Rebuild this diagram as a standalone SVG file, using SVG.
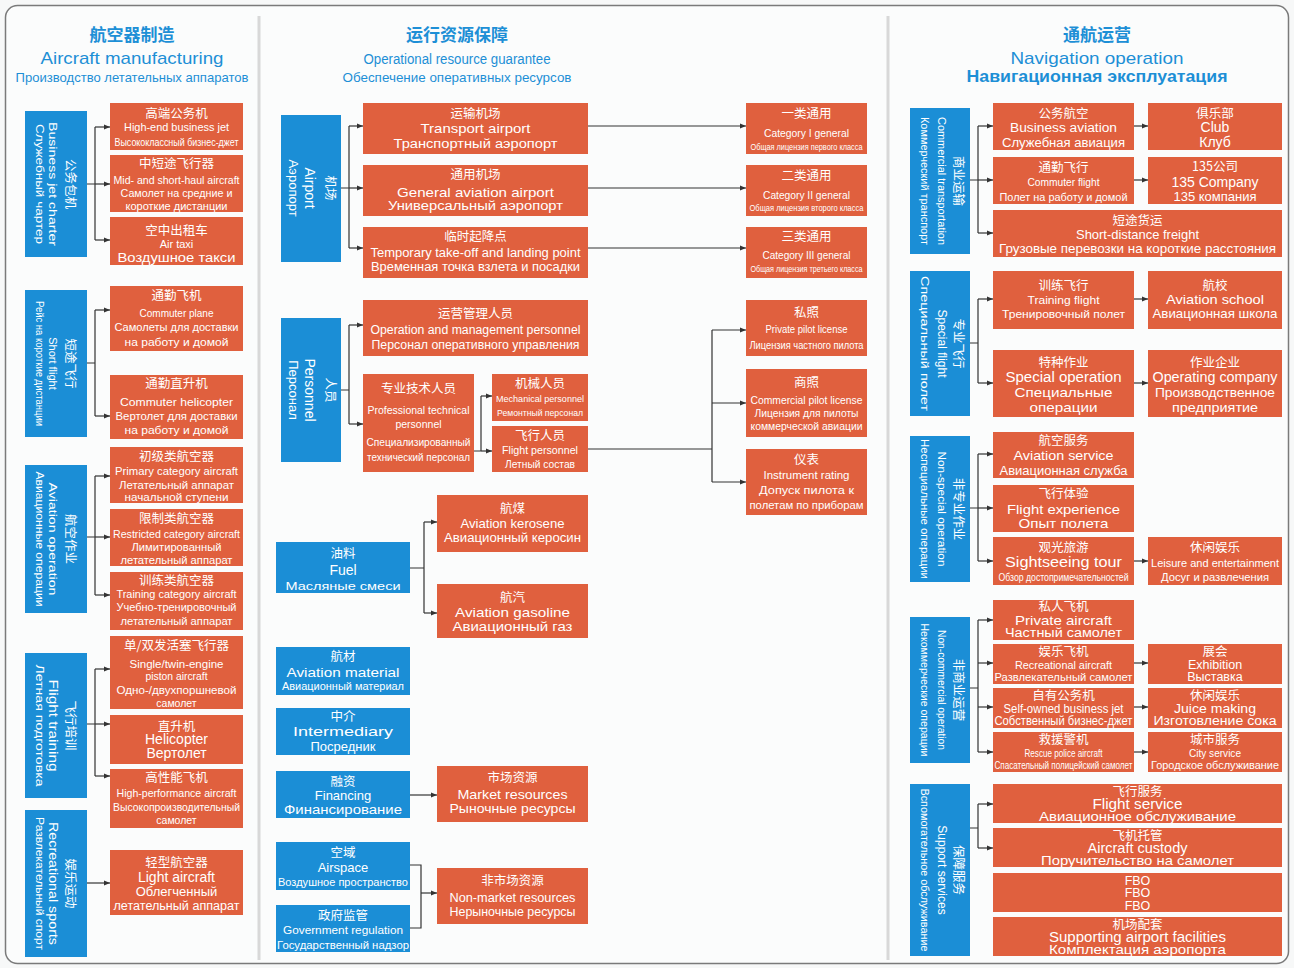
<svg xmlns="http://www.w3.org/2000/svg" width="1294" height="968" viewBox="0 0 1294 968">
<defs>
<marker id="a" markerWidth="6" markerHeight="6" refX="6" refY="3" orient="auto" markerUnits="userSpaceOnUse"><path d="M0,0.6 L6,3 L0,5.4z" fill="#333"/></marker>
<style>
text{font-family:"Liberation Sans","Noto Sans CJK SC",sans-serif;fill:#fff;text-anchor:middle}
.z{font-family:"Noto Sans CJK SC","Liberation Sans",sans-serif;font-size:12.5px}
.e{font-size:11px}
.r{font-size:10.5px}
.o{fill:#e0603e}
.b{fill:#1b8ed6}
.h{fill:#1d8fd6}
.h1{font-family:"Noto Sans CJK SC",sans-serif;font-size:17px;font-weight:bold}
.c path{fill:none;stroke:#333;stroke-width:1.2}
.c path.m{marker-end:url(#a)}
</style>
</defs>
<rect x="0" y="0" width="1294" height="968" fill="#f7f8f8"/>
<rect x="5.5" y="5.5" width="1283" height="958" rx="12" fill="#fbfcfc" stroke="#7a7a7a" stroke-width="1.5"/>
<line x1="259" y1="16" x2="259" y2="960" stroke="#d8d8d8" stroke-width="3"/>
<line x1="888" y1="16" x2="888" y2="960" stroke="#d8d8d8" stroke-width="3"/>

<g id="titles">
<text x="132" y="41" class="h h1">航空器制造</text>
<text x="132" y="64" class="h" font-size="17" textLength="183" lengthAdjust="spacingAndGlyphs">Aircraft manufacturing</text>
<text x="132" y="82" class="h" font-size="13" textLength="233" lengthAdjust="spacingAndGlyphs">Производство летательных аппаратов</text>
<text x="457" y="41" class="h h1">运行资源保障</text>
<text x="457" y="63.5" class="h" font-size="14" textLength="187" lengthAdjust="spacingAndGlyphs">Operational resource guarantee</text>
<text x="457" y="81.5" class="h" font-size="13" textLength="229" lengthAdjust="spacingAndGlyphs">Обеспечение оперативных ресурсов</text>
<text x="1097" y="41" class="h h1">通航运营</text>
<text x="1097" y="64" class="h" font-size="17" textLength="173" lengthAdjust="spacingAndGlyphs">Navigation operation</text>
<text x="1097" y="82" class="h" font-size="16" font-weight="bold" textLength="261" lengthAdjust="spacingAndGlyphs">Навигационная эксплуатация</text>
</g>

<g id="connectors" class="c">
<path d="M87,184H95M95,127V240"/>
<path class="m" d="M95,127H110"/><path class="m" d="M95,184H110"/><path class="m" d="M95,240H110"/>
<path d="M87,363H95M95,310V416"/>
<path class="m" d="M95,310H110"/><path class="m" d="M95,416H110"/>
<path d="M87,537H95M95,476V595"/>
<path class="m" d="M95,476H110"/><path class="m" d="M95,537H110"/><path class="m" d="M95,595H110"/>
<path d="M87,724H95M95,669V776"/>
<path class="m" d="M95,669H110"/><path class="m" d="M95,724H110"/><path class="m" d="M95,776H110"/>
<path class="m" d="M87,883H110"/>

<path d="M341,188H349M349,126V248"/>
<path class="m" d="M349,126H363"/><path class="m" d="M349,188H363"/><path class="m" d="M349,248H363"/>
<path class="m" d="M588,126H746"/><path class="m" d="M588,188H746"/><path class="m" d="M588,248H746"/>
<path d="M341,390H349M349,325V424"/>
<path class="m" d="M349,325H363"/><path class="m" d="M349,424H363"/>
<path d="M474,451H481M481,396V451"/>
<path class="m" d="M481,396H492"/><path class="m" d="M481,451H492"/>
<path d="M588,449H712M712,330V482"/>
<path class="m" d="M712,330H746"/><path class="m" d="M712,403H746"/><path class="m" d="M712,482H746"/>
<path d="M410,568H424M424,522V613"/>
<path class="m" d="M424,522H437"/><path class="m" d="M424,613H437"/>
<path class="m" d="M410,795H437"/>
<path d="M410,865H421V928H410"/>
<path class="m" d="M421,893H437"/>

<path d="M970,180H978M978,126V233"/>
<path class="m" d="M978,126H993"/><path class="m" d="M978,180H993"/><path class="m" d="M978,233H993"/>
<path d="M970,343H978M978,299V383"/>
<path class="m" d="M978,299H993"/><path class="m" d="M978,383H993"/>
<path d="M970,508H978M978,454V561"/>
<path class="m" d="M978,454H993"/><path class="m" d="M978,508H993"/><path class="m" d="M978,561H993"/>
<path d="M970,688H978M978,620V752"/>
<path class="m" d="M978,620H993"/><path class="m" d="M978,663H993"/><path class="m" d="M978,707H993"/><path class="m" d="M978,752H993"/>
<path d="M970,828H978M978,804V848"/>
<path class="m" d="M978,804H993"/><path class="m" d="M978,848H993"/>
<path class="m" d="M1134,126H1148"/><path class="m" d="M1134,180H1148"/>
<path class="m" d="M1134,299H1148"/><path class="m" d="M1134,383H1148"/>
<path class="m" d="M1134,561H1148"/><path class="m" d="M1134,663H1148"/>
<path class="m" d="M1134,707H1148"/><path class="m" d="M1134,752H1148"/>
</g>

<!-- Column 1 blue -->
<g id="charter"><rect class="b" x="25" y="111" width="62" height="146"/><g transform="translate(56,184) rotate(90)"><text class="z" y="-9.5">公务包机</text><text class="e" y="7" textLength="124" lengthAdjust="spacingAndGlyphs">Business jet charter</text><text class="r" y="20" textLength="120" lengthAdjust="spacingAndGlyphs">Служебный чартер</text></g></g>
<g id="shortflight"><rect class="b" x="25" y="290" width="62" height="147"/><g transform="translate(56,363.5) rotate(90)"><text class="z" y="-9.5">短途飞行</text><text class="e" y="7">Short flight</text><text class="r" y="20" textLength="125" lengthAdjust="spacingAndGlyphs">Рейс на короткие дистанции</text></g></g>
<g id="aviop"><rect class="b" x="25" y="465" width="62" height="148"/><g transform="translate(56,539) rotate(90)"><text class="z" y="-9.5">航空作业</text><text class="e" y="7" textLength="113" lengthAdjust="spacingAndGlyphs">Aviation operation</text><text class="r" y="20" textLength="135" lengthAdjust="spacingAndGlyphs">Авиационные операции</text></g></g>
<g id="flighttraining"><rect class="b" x="25" y="653" width="62" height="145"/><g transform="translate(56,725.5) rotate(90)"><text class="z" y="-9.5">飞行培训</text><text y="7" font-size="13" textLength="92" lengthAdjust="spacingAndGlyphs">Flight training</text><text class="r" y="20" textLength="122" lengthAdjust="spacingAndGlyphs">Летная подготовка</text></g></g>
<g id="recsports"><rect class="b" x="25" y="810" width="62" height="147"/><g transform="translate(56,883.5) rotate(90)"><text class="z" y="-9.5">娱乐运动</text><text y="7" font-size="13" textLength="123" lengthAdjust="spacingAndGlyphs">Recreational sports</text><text class="r" y="20" textLength="133" lengthAdjust="spacingAndGlyphs">Развлекательный спорт</text></g></g>

<!-- Column 1 orange -->
<g id="highend"><rect class="o" x="110" y="103" width="133" height="47"/><text class="z" x="176.5" y="118">高端公务机</text><text class="e" x="176.5" y="131" textLength="105" lengthAdjust="spacingAndGlyphs">High-end business jet</text><text class="r" x="176.5" y="145.5" textLength="124" lengthAdjust="spacingAndGlyphs">Высококлассный бизнес-джет</text></g>
<g id="midshort"><rect class="o" x="110" y="155" width="133" height="57"/><text class="z" x="176.5" y="168">中短途飞行器</text><text class="e" x="176.5" y="183.5" textLength="126" lengthAdjust="spacingAndGlyphs">Mid- and short-haul aircraft</text><text class="r" x="176.5" y="197" textLength="112" lengthAdjust="spacingAndGlyphs">Самолет на средние и</text><text class="r" x="176.5" y="210" textLength="102" lengthAdjust="spacingAndGlyphs">короткие дистанции</text></g>
<g id="airtaxi"><rect class="o" x="110" y="217" width="133" height="48"/><text class="z" x="176.5" y="234.5">空中出租车</text><text class="e" x="176.5" y="247.5">Air taxi</text><text x="176.5" y="262" font-size="12" textLength="118" lengthAdjust="spacingAndGlyphs">Воздушное такси</text></g>
<g id="commuterplane"><rect class="o" x="110" y="286" width="133" height="65"/><text class="z" x="176.5" y="299.5">通勤飞机</text><text class="r" x="176.5" y="317" textLength="74" lengthAdjust="spacingAndGlyphs">Commuter plane</text><text class="r" x="176.5" y="331" textLength="124" lengthAdjust="spacingAndGlyphs">Самолеты для доставки</text><text class="r" x="176.5" y="346" textLength="104" lengthAdjust="spacingAndGlyphs">на работу и домой</text></g>
<g id="commuterheli"><rect class="o" x="110" y="375" width="133" height="64"/><text class="z" x="176.5" y="388">通勤直升机</text><text class="e" x="176.5" y="406" textLength="113" lengthAdjust="spacingAndGlyphs">Commuter helicopter</text><text class="r" x="176.5" y="420" textLength="122" lengthAdjust="spacingAndGlyphs">Вертолет для доставки</text><text class="r" x="176.5" y="433.5" textLength="104" lengthAdjust="spacingAndGlyphs">на работу и домой</text></g>
<g id="primary"><rect class="o" x="110" y="447" width="133" height="56"/><text class="z" x="176.5" y="460.5">初级类航空器</text><text class="e" x="176.5" y="475" textLength="123" lengthAdjust="spacingAndGlyphs">Primary category aircraft</text><text class="r" x="176.5" y="488.5" textLength="115" lengthAdjust="spacingAndGlyphs">Летательный аппарат</text><text class="r" x="176.5" y="500.5" textLength="104" lengthAdjust="spacingAndGlyphs">начальной ступени</text></g>
<g id="restricted"><rect class="o" x="110" y="509" width="133" height="57"/><text class="z" x="176.5" y="523">限制类航空器</text><text class="e" x="176.5" y="537.5" textLength="127" lengthAdjust="spacingAndGlyphs">Restricted category aircraft</text><text class="r" x="176.5" y="551" textLength="90" lengthAdjust="spacingAndGlyphs">Лимитированный</text><text class="r" x="176.5" y="563.5" textLength="112" lengthAdjust="spacingAndGlyphs">летательный аппарат</text></g>
<g id="trainingcat"><rect class="o" x="110" y="572" width="133" height="58"/><text class="z" x="176.5" y="585">训练类航空器</text><text class="e" x="176.5" y="597.5" textLength="120" lengthAdjust="spacingAndGlyphs">Training category aircraft</text><text class="r" x="176.5" y="611" textLength="120" lengthAdjust="spacingAndGlyphs">Учебно-тренировочный</text><text class="r" x="176.5" y="624.5" textLength="112" lengthAdjust="spacingAndGlyphs">летательный аппарат</text></g>
<g id="piston"><rect class="o" x="110" y="636" width="133" height="73"/><text class="z" x="176.5" y="649.5">单/双发活塞飞行器</text><text class="e" x="176.5" y="668" textLength="94" lengthAdjust="spacingAndGlyphs">Single/twin-engine</text><text class="e" x="176.5" y="679.5" textLength="62" lengthAdjust="spacingAndGlyphs">piston aircraft</text><text class="r" x="176.5" y="694" textLength="120" lengthAdjust="spacingAndGlyphs">Одно-/двухпоршневой</text><text class="r" x="176.5" y="707">самолет</text></g>
<g id="helicopter"><rect class="o" x="110" y="715" width="133" height="49"/><text class="z" x="176.5" y="730.5" font-size="14">直升机</text><text x="176.5" y="744" font-size="14">Helicopter</text><text x="176.5" y="758" font-size="14">Вертолет</text></g>
<g id="highperf"><rect class="o" x="110" y="769" width="133" height="59"/><text class="z" x="176.5" y="781.5">高性能飞机</text><text class="e" x="176.5" y="797" textLength="120" lengthAdjust="spacingAndGlyphs">High-performance aircraft</text><text class="r" x="176.5" y="811" textLength="127" lengthAdjust="spacingAndGlyphs">Высокопроизводительный</text><text class="r" x="176.5" y="824">самолет</text></g>
<g id="light"><rect class="o" x="110" y="850" width="133" height="65"/><text class="z" x="176.5" y="866.5" font-size="14">轻型航空器</text><text x="176.5" y="882" font-size="14">Light aircraft</text><text x="176.5" y="896" font-size="13">Облегченный</text><text x="176.5" y="910" font-size="12.5" textLength="126" lengthAdjust="spacingAndGlyphs">летательный аппарат</text></g>

<!-- Column 2 blue -->
<g id="airport"><rect class="b" x="281" y="115" width="60" height="147"/><g transform="translate(311,188) rotate(90)"><text class="z" y="-15" font-size="14">机场</text><text y="6" font-size="14">Airport</text><text y="22" font-size="13">Аэропорт</text></g></g>
<g id="personnel"><rect class="b" x="281" y="318" width="60" height="144"/><g transform="translate(311,390) rotate(90)"><text class="z" y="-15" font-size="14">人员</text><text y="6" font-size="14">Personnel</text><text y="22" font-size="13">Персонал</text></g></g>
<g id="fuel"><rect class="b" x="276" y="542" width="134" height="51"/><text class="z" x="343" y="557.5">油料</text><text x="343" y="575" font-size="14">Fuel</text><text x="343" y="590" font-size="11.5" textLength="115" lengthAdjust="spacingAndGlyphs">Масляные смеси</text></g>
<g id="material"><rect class="b" x="276" y="647" width="134" height="48"/><text class="z" x="343" y="660.5">航材</text><text x="343" y="676.5" font-size="12.5" textLength="113" lengthAdjust="spacingAndGlyphs">Aviation material</text><text class="r" x="343" y="690" textLength="122" lengthAdjust="spacingAndGlyphs">Авиационный материал</text></g>
<g id="intermediary"><rect class="b" x="276" y="708" width="134" height="47"/><text class="z" x="343" y="720.5">中介</text><text x="343" y="735.5" font-size="13" textLength="100" lengthAdjust="spacingAndGlyphs">Intermediary</text><text x="343" y="750.5" font-size="13">Посредник</text></g>
<g id="financing"><rect class="b" x="276" y="771" width="134" height="47"/><text class="z" x="343" y="785.5">融资</text><text x="343" y="799.5" font-size="13">Financing</text><text x="343" y="814" font-size="12.5" textLength="118" lengthAdjust="spacingAndGlyphs">Финансирование</text></g>
<g id="airspace"><rect class="b" x="276" y="842" width="134" height="48"/><text class="z" x="343" y="856.5">空域</text><text x="343" y="871.5" font-size="13">Airspace</text><text x="343" y="886" font-size="11" textLength="130" lengthAdjust="spacingAndGlyphs">Воздушное пространство</text></g>
<g id="government"><rect class="b" x="276" y="905" width="134" height="47"/><text class="z" x="343" y="919.5">政府监管</text><text class="r" x="343" y="934" textLength="120" lengthAdjust="spacingAndGlyphs">Government regulation</text><text class="e" x="343" y="948.5" textLength="132" lengthAdjust="spacingAndGlyphs">Государственный надзор</text></g>

<!-- Column 2 orange -->
<g id="transport"><rect class="o" x="363" y="103" width="225" height="51"/><text class="z" x="475.5" y="118" font-size="13">运输机场</text><text x="475.5" y="132.5" font-size="13" textLength="110" lengthAdjust="spacingAndGlyphs">Transport airport</text><text x="475.5" y="147.5" font-size="12.5" textLength="164" lengthAdjust="spacingAndGlyphs">Транспортный аэропорт</text></g>
<g id="general"><rect class="o" x="363" y="165" width="225" height="51"/><text class="z" x="475.5" y="178.5" font-size="13">通用机场</text><text x="475.5" y="196.5" font-size="13" textLength="157" lengthAdjust="spacingAndGlyphs">General aviation airport</text><text x="475.5" y="209.5" font-size="12.5" textLength="175" lengthAdjust="spacingAndGlyphs">Универсальный аэропорт</text></g>
<g id="temporary"><rect class="o" x="363" y="227" width="225" height="51"/><text class="z" x="475.5" y="240.5" font-size="13">临时起降点</text><text x="475.5" y="257" font-size="12.5" textLength="210" lengthAdjust="spacingAndGlyphs">Temporary take-off and landing point</text><text x="475.5" y="271" font-size="12" textLength="209" lengthAdjust="spacingAndGlyphs">Временная точка взлета и посадки</text></g>
<g id="opmgmt"><rect class="o" x="363" y="300" width="225" height="56"/><text class="z" x="475.5" y="317.5" font-size="13">运营管理人员</text><text x="475.5" y="334" font-size="12" textLength="210" lengthAdjust="spacingAndGlyphs">Operation and management personnel</text><text x="475.5" y="349" font-size="12" textLength="208" lengthAdjust="spacingAndGlyphs">Персонал оперативного управления</text></g>
<g id="protech"><rect class="o" x="363" y="374" width="111" height="98"/><text class="z" x="418.5" y="392.5" font-size="13">专业技术人员</text><text class="r" x="418.5" y="414" textLength="102" lengthAdjust="spacingAndGlyphs">Professional technical</text><text class="r" x="418.5" y="428">personnel</text><text class="r" x="418.5" y="446" textLength="104" lengthAdjust="spacingAndGlyphs">Специализированный</text><text class="r" x="418.5" y="461" textLength="103" lengthAdjust="spacingAndGlyphs">технический персонал</text></g>
<g id="mechanical"><rect class="o" x="492" y="374" width="96" height="47"/><text class="z" x="540" y="387.5" font-size="13">机械人员</text><text x="540" y="401.5" font-size="9.5" textLength="88" lengthAdjust="spacingAndGlyphs">Mechanical personnel</text><text x="540" y="415.5" font-size="9.5" textLength="86" lengthAdjust="spacingAndGlyphs">Ремонтный персонал</text></g>
<g id="flightpers"><rect class="o" x="492" y="426" width="96" height="46"/><text class="z" x="540" y="439.5" font-size="13">飞行人员</text><text x="540" y="453.5" font-size="10" textLength="76" lengthAdjust="spacingAndGlyphs">Flight personnel</text><text x="540" y="468" font-size="10" textLength="70" lengthAdjust="spacingAndGlyphs">Летный состав</text></g>
<g id="kerosene"><rect class="o" x="437" y="495" width="151" height="57"/><text class="z" x="512.5" y="512.5" font-size="13">航煤</text><text x="512.5" y="527.5" font-size="13" textLength="104" lengthAdjust="spacingAndGlyphs">Aviation kerosene</text><text x="512.5" y="542" font-size="12.5" textLength="137" lengthAdjust="spacingAndGlyphs">Авиационный керосин</text></g>
<g id="gasoline"><rect class="o" x="437" y="584" width="151" height="54"/><text class="z" x="512.5" y="601.5" font-size="13">航汽</text><text x="512.5" y="617" font-size="13" textLength="115" lengthAdjust="spacingAndGlyphs">Aviation gasoline</text><text x="512.5" y="631" font-size="12.5" textLength="120" lengthAdjust="spacingAndGlyphs">Авиационный газ</text></g>
<g id="market"><rect class="o" x="437" y="766" width="151" height="56"/><text class="z" x="512.5" y="781.5" font-size="13">市场资源</text><text x="512.5" y="799" font-size="13" textLength="110" lengthAdjust="spacingAndGlyphs">Market resources</text><text x="512.5" y="812.5" font-size="12.5" textLength="126" lengthAdjust="spacingAndGlyphs">Рыночные ресурсы</text></g>
<g id="nonmarket"><rect class="o" x="437" y="868" width="151" height="56"/><text class="z" x="512.5" y="884.5" font-size="13">非市场资源</text><text x="512.5" y="902" font-size="12" textLength="126" lengthAdjust="spacingAndGlyphs">Non-market resources</text><text x="512.5" y="916" font-size="12.5" textLength="126" lengthAdjust="spacingAndGlyphs">Нерыночные ресурсы</text></g>

<!-- Licenses -->
<g id="cat1"><rect class="o" x="746" y="103" width="121" height="51"/><text class="z" x="806.5" y="118">一类通用</text><text class="r" x="806.5" y="136.5" textLength="85" lengthAdjust="spacingAndGlyphs">Category I general</text><text x="806.5" y="150" font-size="9.5" textLength="112" lengthAdjust="spacingAndGlyphs">Общая лицензия первого класса</text></g>
<g id="cat2"><rect class="o" x="746" y="165" width="121" height="51"/><text class="z" x="806.5" y="180">二类通用</text><text class="r" x="806.5" y="199" textLength="87" lengthAdjust="spacingAndGlyphs">Category II general</text><text x="806.5" y="211" font-size="9.5" textLength="114" lengthAdjust="spacingAndGlyphs">Общая лицензия второго класса</text></g>
<g id="cat3"><rect class="o" x="746" y="227" width="121" height="51"/><text class="z" x="806.5" y="241">三类通用</text><text class="r" x="806.5" y="258.5" textLength="88" lengthAdjust="spacingAndGlyphs">Category III general</text><text x="806.5" y="271.5" font-size="9.5" textLength="112" lengthAdjust="spacingAndGlyphs">Общая лицензия третьего класса</text></g>
<g id="ppl"><rect class="o" x="746" y="300" width="121" height="56"/><text class="z" x="806.5" y="317">私照</text><text x="806.5" y="332.5" font-size="10" textLength="82" lengthAdjust="spacingAndGlyphs">Private pilot license</text><text x="806.5" y="348.5" font-size="10" textLength="114" lengthAdjust="spacingAndGlyphs">Лицензия частного пилота</text></g>
<g id="cpl"><rect class="o" x="746" y="369" width="121" height="68"/><text class="z" x="806.5" y="387">商照</text><text class="r" x="806.5" y="403.5" textLength="112" lengthAdjust="spacingAndGlyphs">Commercial pilot license</text><text class="r" x="806.5" y="416.5" textLength="104" lengthAdjust="spacingAndGlyphs">Лицензия для пилоты</text><text class="r" x="806.5" y="429.5" textLength="112" lengthAdjust="spacingAndGlyphs">коммерческой авиации</text></g>
<g id="ir"><rect class="o" x="746" y="449" width="121" height="66"/><text class="z" x="806.5" y="464">仪表</text><text class="r" x="806.5" y="479" textLength="86" lengthAdjust="spacingAndGlyphs">Instrument rating</text><text class="r" x="806.5" y="494" textLength="95" lengthAdjust="spacingAndGlyphs">Допуск пилота к</text><text class="r" x="806.5" y="509" textLength="114" lengthAdjust="spacingAndGlyphs">полетам по приборам</text></g>

<!-- Column 3 blue -->
<g id="commercial"><rect class="b" x="910" y="108" width="60" height="146"/><g transform="translate(940,181) rotate(90)"><text class="z" y="-13.5">商业运输</text><text class="e" y="2.5" textLength="128" lengthAdjust="spacingAndGlyphs">Commercial transportation</text><text class="e" y="19" textLength="128" lengthAdjust="spacingAndGlyphs">Коммерческий транспорт</text></g></g>
<g id="special"><rect class="b" x="910" y="271" width="60" height="145"/><g transform="translate(940,343.5) rotate(90)"><text class="z" y="-13.5">专业飞行</text><text y="2.5" font-size="12">Special flight</text><text class="e" y="19" textLength="135" lengthAdjust="spacingAndGlyphs">Специальный полет</text></g></g>
<g id="nonspecial"><rect class="b" x="910" y="436" width="60" height="146"/><g transform="translate(940,509) rotate(90)"><text class="z" y="-13.5">非专业作业</text><text class="e" y="2.5" textLength="115" lengthAdjust="spacingAndGlyphs">Non-special operation</text><text class="e" y="19" textLength="140" lengthAdjust="spacingAndGlyphs">Неспециальные операции</text></g></g>
<g id="noncommercial"><rect class="b" x="910" y="617" width="60" height="146"/><g transform="translate(940,690) rotate(90)"><text class="z" y="-13.5">非商业运营</text><text class="e" y="2.5" textLength="120" lengthAdjust="spacingAndGlyphs">Non-commercial operation</text><text class="e" y="19" textLength="133" lengthAdjust="spacingAndGlyphs">Некоммерческие операции</text></g></g>
<g id="support"><rect class="b" x="910" y="784" width="60" height="172"/><g transform="translate(940,870) rotate(90)"><text class="z" y="-13.5">保障服务</text><text y="2.5" font-size="12">Support services</text><text class="e" y="19" textLength="163" lengthAdjust="spacingAndGlyphs">Вспомогательное обслуживание</text></g></g>

<!-- Column 3 orange -->
<g id="bizav"><rect class="o" x="993" y="103" width="141" height="47"/><text class="z" x="1063.5" y="117.5">公务航空</text><text x="1063.5" y="132" font-size="12.5" textLength="107" lengthAdjust="spacingAndGlyphs">Business aviation</text><text x="1063.5" y="147" font-size="12" textLength="123" lengthAdjust="spacingAndGlyphs">Служебная авиация</text></g>
<g id="club"><rect class="o" x="1148" y="103" width="134" height="47"/><text class="z" x="1215" y="117.5">俱乐部</text><text x="1215" y="132" font-size="14">Club</text><text x="1215" y="147" font-size="14">Клуб</text></g>
<g id="commuterflight"><rect class="o" x="993" y="157" width="141" height="47"/><text class="z" x="1063.5" y="171.5">通勤飞行</text><text x="1063.5" y="186" font-size="10" textLength="72" lengthAdjust="spacingAndGlyphs">Commuter flight</text><text class="e" x="1063.5" y="201" textLength="128" lengthAdjust="spacingAndGlyphs">Полет на работу и домой</text></g>
<g id="co135"><rect class="o" x="1148" y="157" width="134" height="47"/><text class="z" x="1215" y="171" font-size="13">135公司</text><text x="1215" y="186.5" font-size="14">135 Company</text><text x="1215" y="200.5" font-size="13">135 компания</text></g>
<g id="freight"><rect class="o" x="993" y="210" width="289" height="47"/><text class="z" x="1137.5" y="224.5">短途货运</text><text x="1137.5" y="239" font-size="13" textLength="123" lengthAdjust="spacingAndGlyphs">Short-distance freight</text><text x="1137.5" y="253" font-size="13" textLength="277" lengthAdjust="spacingAndGlyphs">Грузовые перевозки на короткие расстояния</text></g>
<g id="trainingflight"><rect class="o" x="993" y="271" width="141" height="58"/><text class="z" x="1063.5" y="289.5">训练飞行</text><text class="e" x="1063.5" y="304" textLength="72" lengthAdjust="spacingAndGlyphs">Training flight</text><text class="e" x="1063.5" y="317.5" textLength="123" lengthAdjust="spacingAndGlyphs">Тренировочный полет</text></g>
<g id="school"><rect class="o" x="1148" y="271" width="134" height="58"/><text class="z" x="1215" y="289.5">航校</text><text x="1215" y="304" font-size="13" textLength="98" lengthAdjust="spacingAndGlyphs">Aviation school</text><text x="1215" y="317.5" font-size="13" textLength="125" lengthAdjust="spacingAndGlyphs">Авиационная школа</text></g>
<g id="specialop"><rect class="o" x="993" y="350" width="141" height="67"/><text class="z" x="1063.5" y="366.5" font-size="14">特种作业</text><text x="1063.5" y="382" font-size="14" textLength="116" lengthAdjust="spacingAndGlyphs">Special operation</text><text x="1063.5" y="397" font-size="13" textLength="98" lengthAdjust="spacingAndGlyphs">Специальные</text><text x="1063.5" y="411.5" font-size="13" textLength="68" lengthAdjust="spacingAndGlyphs">операции</text></g>
<g id="opcompany"><rect class="o" x="1148" y="350" width="134" height="67"/><text class="z" x="1215" y="366.5" font-size="14">作业企业</text><text x="1215" y="382" font-size="14" textLength="125" lengthAdjust="spacingAndGlyphs">Operating company</text><text x="1215" y="397" font-size="13" textLength="120" lengthAdjust="spacingAndGlyphs">Производственное</text><text x="1215" y="411.5" font-size="13" textLength="86" lengthAdjust="spacingAndGlyphs">предприятие</text></g>
<g id="avservice"><rect class="o" x="993" y="432" width="141" height="46"/><text class="z" x="1063.5" y="444.5">航空服务</text><text x="1063.5" y="460" font-size="13" textLength="100" lengthAdjust="spacingAndGlyphs">Aviation service</text><text x="1063.5" y="474.5" font-size="12.5" textLength="128" lengthAdjust="spacingAndGlyphs">Авиационная служба</text></g>
<g id="experience"><rect class="o" x="993" y="485" width="141" height="47"/><text class="z" x="1063.5" y="497.5">飞行体验</text><text x="1063.5" y="513.5" font-size="13.5" textLength="113" lengthAdjust="spacingAndGlyphs">Flight experience</text><text x="1063.5" y="528" font-size="13" textLength="90" lengthAdjust="spacingAndGlyphs">Опыт полета</text></g>
<g id="sightseeing"><rect class="o" x="993" y="537" width="141" height="48"/><text class="z" x="1063.5" y="551.5">观光旅游</text><text x="1063.5" y="567" font-size="14" textLength="117" lengthAdjust="spacingAndGlyphs">Sightseeing tour</text><text class="e" x="1063.5" y="581" textLength="130" lengthAdjust="spacingAndGlyphs">Обзор достопримечательностей</text></g>
<g id="leisure"><rect class="o" x="1148" y="537" width="134" height="48"/><text class="z" x="1215" y="551.5">休闲娱乐</text><text class="e" x="1215" y="567" textLength="128" lengthAdjust="spacingAndGlyphs">Leisure and entertainment</text><text class="e" x="1215" y="581" textLength="108" lengthAdjust="spacingAndGlyphs">Досуг и развлечения</text></g>
<g id="private"><rect class="o" x="993" y="600" width="141" height="40"/><text class="z" x="1063.5" y="611" font-size="12">私人飞机</text><text x="1063.5" y="624.5" font-size="13" textLength="97" lengthAdjust="spacingAndGlyphs">Private aircraft</text><text x="1063.5" y="637" font-size="12.5" textLength="117" lengthAdjust="spacingAndGlyphs">Частный самолет</text></g>
<g id="recreational"><rect class="o" x="993" y="644" width="141" height="40"/><text class="z" x="1063.5" y="656" font-size="12">娱乐飞机</text><text class="e" x="1063.5" y="669" textLength="97" lengthAdjust="spacingAndGlyphs">Recreational aircraft</text><text class="e" x="1063.5" y="681" textLength="138" lengthAdjust="spacingAndGlyphs">Развлекательный самолет</text></g>
<g id="exhibition"><rect class="o" x="1148" y="644" width="134" height="40"/><text class="z" x="1215" y="656" font-size="12">展会</text><text x="1215" y="669" font-size="12.5">Exhibition</text><text x="1215" y="681" font-size="12.5">Выставка</text></g>
<g id="selfowned"><rect class="o" x="993" y="688" width="141" height="40"/><text class="z" x="1063.5" y="700" font-size="12.5">自有公务机</text><text x="1063.5" y="713" font-size="12" textLength="120" lengthAdjust="spacingAndGlyphs">Self-owned business jet</text><text x="1063.5" y="725" font-size="12" textLength="138" lengthAdjust="spacingAndGlyphs">Собственный бизнес-джет</text></g>
<g id="juice"><rect class="o" x="1148" y="688" width="134" height="40"/><text class="z" x="1215" y="700" font-size="12.5">休闲娱乐</text><text x="1215" y="713" font-size="13" textLength="82" lengthAdjust="spacingAndGlyphs">Juice making</text><text x="1215" y="725" font-size="12.5" textLength="123" lengthAdjust="spacingAndGlyphs">Изготовление сока</text></g>
<g id="rescue"><rect class="o" x="993" y="732" width="141" height="40"/><text class="z" x="1063.5" y="744" font-size="12.5">救援警机</text><text class="r" x="1063.5" y="757" textLength="78" lengthAdjust="spacingAndGlyphs">Rescue police aircraft</text><text class="r" x="1063.5" y="769" textLength="138" lengthAdjust="spacingAndGlyphs">Спасательный полицейский самолет</text></g>
<g id="city"><rect class="o" x="1148" y="732" width="134" height="40"/><text class="z" x="1215" y="744" font-size="12.5">城市服务</text><text x="1215" y="757" font-size="11.5" textLength="52" lengthAdjust="spacingAndGlyphs">City service</text><text class="e" x="1215" y="769" textLength="128" lengthAdjust="spacingAndGlyphs">Городское обслуживание</text></g>
<g id="flightservice"><rect class="o" x="993" y="784" width="289" height="39"/><text class="z" x="1137.5" y="796" font-size="12.5">飞行服务</text><text x="1137.5" y="809" font-size="14" textLength="90" lengthAdjust="spacingAndGlyphs">Flight service</text><text x="1137.5" y="821" font-size="13" textLength="197" lengthAdjust="spacingAndGlyphs">Авиационное обслуживание</text></g>
<g id="custody"><rect class="o" x="993" y="828" width="289" height="39"/><text class="z" x="1137.5" y="840" font-size="12.5">飞机托管</text><text x="1137.5" y="853" font-size="14" textLength="100" lengthAdjust="spacingAndGlyphs">Aircraft custody</text><text x="1137.5" y="865" font-size="13" textLength="193" lengthAdjust="spacingAndGlyphs">Поручительство на самолет</text></g>
<g id="fbo"><rect class="o" x="993" y="873" width="289" height="39"/><text x="1137.5" y="884.5" font-size="12.5">FBO</text><text x="1137.5" y="897" font-size="12.5">FBO</text><text x="1137.5" y="909.5" font-size="12.5">FBO</text></g>
<g id="facilities"><rect class="o" x="993" y="917" width="289" height="39"/><text class="z" x="1137.5" y="929" font-size="12.5">机场配套</text><text x="1137.5" y="942" font-size="14" textLength="177" lengthAdjust="spacingAndGlyphs">Supporting airport facilities</text><text x="1137.5" y="954" font-size="13" textLength="177" lengthAdjust="spacingAndGlyphs">Комплектация аэропорта</text></g>
</svg>
